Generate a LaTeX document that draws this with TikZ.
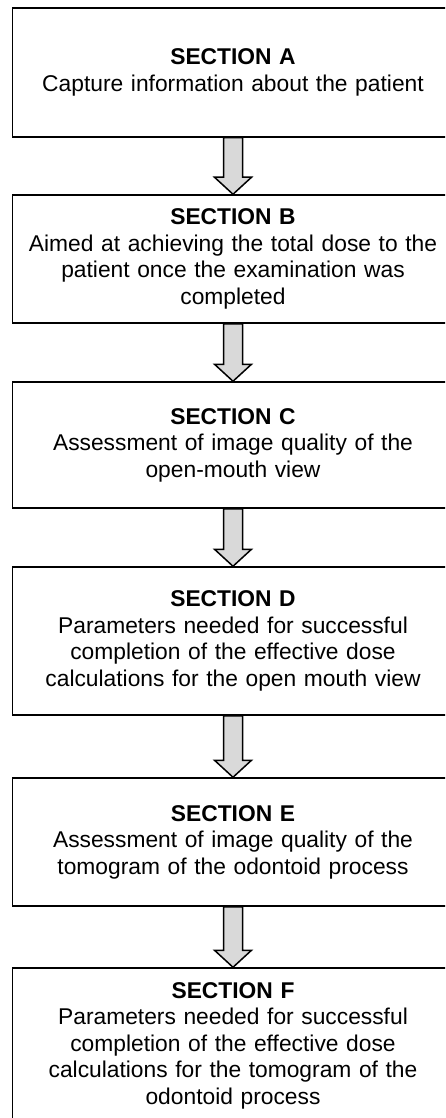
\documentclass[tikz,border=0pt]{standalone}
\usepackage{fontspec}
\setmainfont{Liberation Sans}
\usetikzlibrary{calc}
\definecolor{arrowgray}{HTML}{D9D9D9}
\tikzset{
  sectionbox/.style={draw=black, line width=1.5pt, fill=white, inner sep=0pt,
    minimum width=441pt, text width=430pt, align=center,
    font=\fontsize{22.8}{26.5}\selectfont},
  flowarrow/.style={draw=black, line width=1.5pt, fill=arrowgray, line join=miter}
}
\newcommand{\flowarrowbetween}[2]{%
  \path[flowarrow] ($(#1.south)+(-9.5,0)$) -- ($(#2.north)+(-9.5,17)$) --
    ($(#2.north)+(-18.5,17)$) -- (#2.north) -- ($(#2.north)+(18.5,17)$) --
    ($(#2.north)+(9.5,17)$) -- ($(#1.south)+(9.5,0)$) -- cycle;}
\begin{document}
\begin{tikzpicture}[x=1pt,y=1pt]
\useasboundingbox (0,0) rectangle (445,-1118);
\clip (0,0) rectangle (445,-1118);
\fill[white] (0,0) rectangle (445,-1118);
\node[sectionbox, minimum height=129pt] (a) at (233,-72.5)
  {\textbf{SECTION A}\\Capture information about the patient};
\node[sectionbox, minimum height=128pt] (b) at (233,-259)
  {\textbf{SECTION B}\\Aimed at achieving the total dose to the\\patient once the examination was\\completed};
\node[sectionbox, minimum height=126pt] (c) at (233,-445)
  {\textbf{SECTION C}\\Assessment of image quality of the\\open-mouth view};
\node[sectionbox, minimum height=148pt] (d) at (233,-641)
  {\textbf{SECTION D}\\Parameters needed for successful\\completion of the effective dose\\calculations for the open mouth view};
\node[sectionbox, minimum height=128pt] (e) at (233,-842)
  {\textbf{SECTION E}\\Assessment of image quality of the\\tomogram of the odontoid process};
\node[sectionbox, minimum height=155pt] (f) at (233,-1045.5)
  {\textbf{SECTION F}\\Parameters needed for successful\\completion of the effective dose\\calculations for the tomogram of the\\odontoid process};
\flowarrowbetween{a}{b}
\flowarrowbetween{b}{c}
\flowarrowbetween{c}{d}
\flowarrowbetween{d}{e}
\flowarrowbetween{e}{f}
\end{tikzpicture}
\end{document}
